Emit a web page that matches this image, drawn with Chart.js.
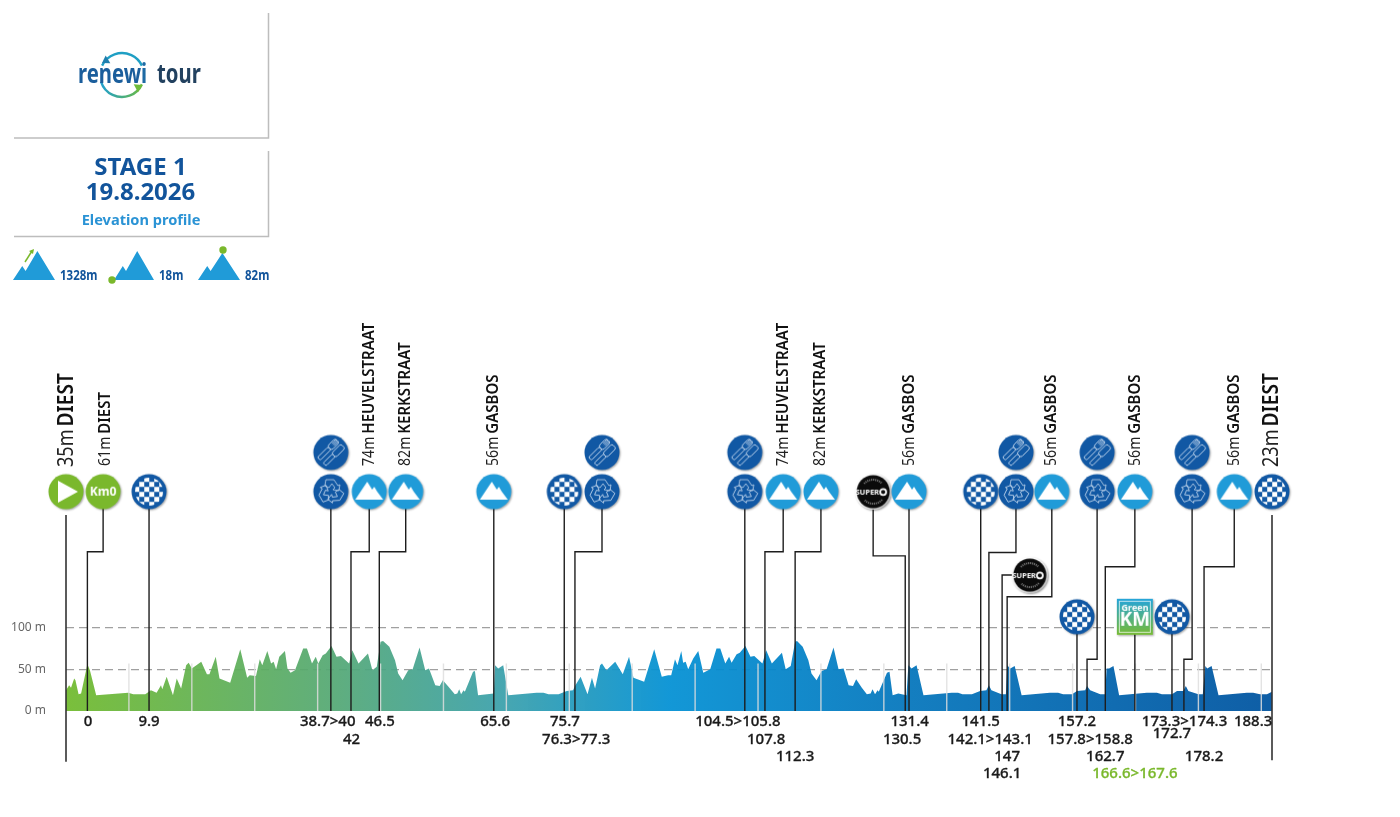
<!DOCTYPE html>
<html lang="en">
<head>
<meta charset="UTF-8" />
<title>Renewi Tour stage 1 profile</title>
<script src="https://cdn.jsdelivr.net/npm/chart.js@4/dist/chart.umd.js"></script>
<style>
  body { margin: 0; background: #fff; }
  canvas { display: block; }
</style>
</head>
<body>
<canvas id="profile" width="1400" height="817"></canvas>
<script>
// elevation profile, km from the official start / metres
const profileKm = [-3.4, -2.9, -2.6, -2.1, -1.9, -1.4, -1.0, 0, 0.4, 1.4, 6.5, 7.3, 9.2, 10.1, 11.0, 11.7, 11.9, 12.6, 13.6, 14.2, 14.9, 15.7, 16.1, 16.6, 18.1, 19.0, 19.4, 20.4, 21.0, 22.7, 24.3, 25.4, 25.8, 26.8, 27.4, 27.8, 28.6, 29.2, 29.6, 30.0, 30.5, 31.4, 31.8, 32.3, 33.0, 34.3, 34.9, 35.7, 36.3, 36.7, 37.4, 37.9, 38.8, 39.6, 40.3, 41.6, 42.1, 43.1, 44.6, 45.3, 46.0, 46.6, 47.0, 48.0, 48.9, 49.4, 50.1, 51.0, 51.7, 52.8, 53.7, 54.3, 55.3, 56.0, 56.5, 57.4, 58.4, 58.8, 59.1, 59.4, 59.8, 60.0, 61.3, 61.6, 62.1, 64.6, 64.8, 65.3, 66.1, 66.9, 71.4, 72.5, 73.3, 74.9, 76.2, 77.2, 77.5, 78.4, 79.5, 80.2, 80.7, 81.5, 81.8, 82.5, 83.9, 85.1, 86.1, 86.8, 88.5, 90.1, 91.3, 92.3, 92.8, 93.4, 93.8, 94.4, 94.7, 95.1, 95.5, 96.3, 97.1, 97.9, 99.0, 100.0, 100.6, 101.4, 102.0, 102.4, 103.2, 103.7, 104.6, 105.4, 106.0, 107.3, 107.9, 108.8, 110.4, 111.0, 111.8, 112.5, 112.8, 113.7, 114.6, 115.1, 115.9, 116.7, 117.5, 118.6, 119.4, 120.2, 121.0, 121.7, 122.2, 123.1, 123.9, 124.5, 124.8, 125.2, 125.6, 125.8, 127.1, 127.5, 128.0, 128.9, 130.2, 130.5, 131.0, 131.8, 132.9, 137.4, 138.4, 139.1, 140.6, 141.9, 142.9, 143.3, 143.7, 145.3, 146.0, 146.2, 146.7, 147.4, 148.5, 153.0, 154.3, 155.1, 156.5, 157.3, 158.6, 158.9, 159.4, 161.0, 161.8, 162.0, 162.4, 163.1, 164.0, 168.4, 170.0, 170.8, 172.4, 173.2, 174.2, 174.6, 175.0, 176.6, 177.3, 177.7, 178.0, 178.7, 179.8, 184.3, 185.3, 186.4, 187.5, 188.3];
const profileAlt = [25, 31, 28, 39, 37, 20, 21, 56, 49, 19, 22, 20, 20, 25, 22, 31, 26, 41, 19, 39, 27, 55, 58, 51, 59, 44, 44, 65, 39, 34, 74, 40, 43, 42, 62, 55, 72, 57, 59, 50, 65, 72, 51, 46, 49, 75, 75, 57, 65, 57, 67, 69, 78, 65, 66, 57, 73, 57, 69, 49, 53, 83, 84, 77, 61, 45, 37, 49, 50, 76, 49, 51, 31, 30, 37, 29, 20, 21, 26, 20, 25, 23, 47, 48, 19, 21, 55, 51, 55, 19, 22, 22, 20, 20, 24, 25, 30, 41, 20, 40, 27, 55, 57, 49, 59, 44, 65, 40, 35, 74, 41, 43, 43, 62, 55, 72, 58, 59, 50, 63, 72, 46, 50, 75, 75, 57, 65, 58, 68, 70, 78, 65, 66, 57, 73, 57, 70, 50, 54, 83, 84, 77, 61, 45, 37, 48, 50, 76, 50, 51, 31, 30, 38, 28, 20, 21, 26, 20, 25, 23, 46, 47, 19, 21, 19, 55, 51, 55, 19, 22, 22, 20, 20, 24, 25, 31, 25, 20, 20, 55, 51, 54, 19, 22, 22, 20, 20, 24, 25, 30, 25, 20, 20, 51, 51, 54, 19, 22, 22, 20, 20, 24, 24, 30, 24, 20, 20, 54, 51, 54, 19, 22, 22, 20, 20, 23];

// pale 10 km ticks
const tickKm = [6.6, 16.6, 26.6, 36.6, 46.6, 56.6, 66.6, 76.6, 86.6, 96.6, 106.6, 116.6, 126.6, 136.6, 146.6, 156.6, 166.6, 176.6, 186.6];

// race furniture, one entry per icon
const markerKinds = ['start', 'km0', 'sprint', 'recycle', 'climb', 'climb', 'climb', 'sprint', 'recycle', 'recycle', 'climb', 'climb', 'super', 'climb', 'sprint', 'recycle', 'climb', 'super', 'sprint', 'recycle', 'climb', 'green', 'sprint', 'recycle', 'climb', 'sprint'];
const markerKm = [-3.4, 2.5, 9.8, 38.7, 44.8, 50.6, 64.6, 75.8, 81.8, 104.5, 110.6, 116.6, 124.9, 130.6, 142.0, 147.6, 153.3, 149.8, 157.3, 160.5, 166.5, 166.5, 172.4, 175.6, 182.3, 188.3];
const markerAlt = [263, 263, 263, 263, 263, 263, 263, 263, 263, 263, 263, 263, 263, 263, 263, 263, 263, 163, 113, 263, 263, 113, 113, 263, 263, 263];
const markerBaseKm = [-3.4, 0, 9.8, 38.7, 41.9, 46.4, 64.6, 75.8, 77.5, 104.5, 107.7, 112.5, 130.0, 130.6, 142.0, 143.3, 146.2, 145.4, 157.3, 158.9, 161.8, 166.5, 172.4, 174.3, 177.5, 188.3];
const markerElbowAlt = [0, 191, 0, 0, 191, 191, 0, 0, 191, 0, 191, 191, 186, 0, 0, 190, 137, 163, 0, 62, 173, 0, 0, 62, 173, 0];

// feed zones sit above the recycle icons
const feedKm = [38.7, 81.8, 104.5, 147.6, 160.5, 175.6];
const feedAlt = [310, 310, 310, 310, 310, 310];

// start and finish rules reach below the axis
const ruleKm = [-3.4, 188.3];
const ruleTopAlt = [235, 235];
const ruleBottomAlt = [-61, -59];

// rotated names above the icons
const nameKm = [2.8, 44.8, 50.5, 64.6, 110.6, 116.5, 130.6, 153.3, 166.5, 182.3];
const nameHeights = ['61m', '74m', '82m', '56m', '74m', '82m', '56m', '56m', '56m', '56m'];
const nameLabels = ['DIEST', 'HEUVELSTRAAT', 'KERKSTRAAT', 'GASBOS', 'HEUVELSTRAAT', 'KERKSTRAAT', 'GASBOS', 'GASBOS', 'GASBOS', 'GASBOS'];
const bigNameKm = [-3.3, 188.3];
const bigNameHeights = ['35m', '23m'];
const bigNameLabels = ['DIEST', 'DIEST'];

// distance texts under the axis
const kmLabels = ['0', '9.9', '38.7>40', '42', '46.5', '65.6', '75.7', '76.3>77.3', '104.5>105.8', '107.8', '112.3', '131.4', '130.5', '141.5', '142.1>143.1', '147', '146.1', '157.2', '157.8>158.8', '162.7', '166.6>167.6', '172.7', '173.3>174.3', '178.2', '188.3'];
const kmLabelAt = [0.1, 9.8, 38.2, 42.0, 46.5, 64.8, 75.9, 77.7, 103.4, 107.9, 112.5, 130.7, 129.5, 142.0, 143.5, 146.2, 145.4, 157.3, 159.4, 161.8, 166.5, 172.4, 174.4, 177.5, 185.3];
const kmLabelRow = [0, 0, 0, 1, 0, 0, 0, 1, 0, 1, 2, 0, 1, 0, 1, 2, 3, 0, 1, 2, 3, 0.7, 0, 2, 0];

const yTicks = [0, 50, 100];

const BLUE = '#1158a4';
const SKY = '#209bd8';
const GREEN = '#7ab82c';
const NAVY = '#12549b';
const FONT = '"Noto Sans"';

function iconCanvas(draw) {
  const c = document.createElement('canvas');
  c.width = 44;
  c.height = 44;
  const g = c.getContext('2d');
  g.translate(22, 22);
  draw(g);
  return c;
}

function disc(g, color, r) {
  g.save();
  g.shadowColor = 'rgba(0,0,0,.35)';
  g.shadowBlur = 2;
  g.shadowOffsetX = 1;
  g.shadowOffsetY = 1;
  g.fillStyle = color;
  g.beginPath();
  g.arc(0, 0, r || 17.5, 0, Math.PI * 2);
  g.fill();
  g.restore();
}

function poly(g, pts) {
  g.beginPath();
  pts.forEach((p, i) => (i ? g.lineTo(p[0], p[1]) : g.moveTo(p[0], p[1])));
  g.closePath();
}

const icons = {
  start: iconCanvas(g => {
    disc(g, GREEN);
    g.fillStyle = '#fff';
    poly(g, [[-8, -11], [-8, 11], [12, 0]]);
    g.fill();
  }),
  km0: iconCanvas(g => {
    disc(g, GREEN);
    g.fillStyle = '#fff';
    g.font = 'bold 12px ' + FONT;
    g.textAlign = 'center';
    g.textBaseline = 'middle';
    g.fillText('Km0', 0, 0.5);
  }),
  sprint: iconCanvas(g => {
    disc(g, BLUE);
    g.save();
    g.beginPath();
    g.arc(0, 0, 14, 0, Math.PI * 2);
    g.clip();
    g.fillStyle = '#fff';
    for (let row = -3; row < 3; row++) {
      for (let col = -3; col < 3; col++) {
        if ((row + col + 6) % 2 === 0) g.fillRect(col * 5 + 0.2, row * 5 + 0.2, 5, 5);
      }
    }
    g.restore();
  }),
  climb: iconCanvas(g => {
    disc(g, SKY);
    g.fillStyle = '#fff';
    poly(g, [[-14, 8], [-2, -10], [3, -2], [5, -5], [8, 0], [14, 8]]);
    g.fill();
  }),
  recycle: iconCanvas(g => {
    disc(g, BLUE);
    g.strokeStyle = '#c4d8ee';
    g.lineWidth = 0.8;
    for (let i = 0; i < 3; i++) {
      g.save();
      g.rotate(i * Math.PI * 2 / 3);
      poly(g, [[-5, -12], [3, -12], [7, -6], [9, -7], [8, -1], [2, -2], [4, -4], [1, -8], [-2, -4], [-6, -6]]);
      g.stroke();
      g.restore();
    }
  }),
  feed: iconCanvas(g => {
    disc(g, BLUE);
    g.rotate(Math.PI / 4);
    g.strokeStyle = '#c4d8ee';
    g.lineWidth = 0.9;
    g.beginPath();
    g.roundRect(-7, -13, 6, 11, 2.5);
    g.roundRect(-6, -2, 4, 15, 1.5);
    g.roundRect(1, -13, 6, 13, 2);
    g.roundRect(2, 0, 4, 13, 1.5);
    g.moveTo(-5.5, -13); g.lineTo(-5.5, -7);
    g.moveTo(-4, -13); g.lineTo(-4, -7);
    g.moveTo(-2.5, -13); g.lineTo(-2.5, -7);
    g.stroke();
  }),
  super: iconCanvas(g => {
    disc(g, '#fff', 18);
    disc(g, '#0b0b0b', 16.5);
    g.fillStyle = '#fff';
    g.font = 'bold 7.5px ' + FONT;
    g.textBaseline = 'middle';
    g.textAlign = 'right';
    g.fillText('SUPER', 6, 0.5);
    g.strokeStyle = '#fff';
    g.lineWidth = 1.8;
    g.beginPath();
    g.arc(10, 0.3, 3, 0, Math.PI * 2);
    g.stroke();
    g.strokeStyle = '#8a8a8a';
    g.lineWidth = 2;
    g.setLineDash([1, 1]);
    g.beginPath();
    g.arc(0, 0, 12, -2.4, -0.74);
    g.stroke();
    g.beginPath();
    g.arc(0, 0, 12, 0.74, 2.4);
    g.stroke();
  }),
  green: iconCanvas(g => {
    const grad = g.createLinearGradient(0, -18, 0, 18);
    grad.addColorStop(0, '#25a5db');
    grad.addColorStop(1, '#78bb34');
    g.save();
    g.shadowColor = 'rgba(0,0,0,.35)';
    g.shadowBlur = 2;
    g.shadowOffsetX = 1;
    g.shadowOffsetY = 1;
    g.fillStyle = grad;
    g.fillRect(-18, -18, 36, 36);
    g.restore();
    g.strokeStyle = 'rgba(255,255,255,.7)';
    g.lineWidth = 1;
    g.strokeRect(-15.5, -15.5, 31, 31);
    g.fillStyle = '#fff';
    g.textAlign = 'center';
    g.textBaseline = 'middle';
    g.font = 'bold 9px ' + FONT;
    g.fillText('Green', 0, -9);
    g.font = 'bold 19px ' + FONT;
    g.fillText('KM', 0, 4);
  })
};

// draws a text squeezed horizontally, returns the width used
function squeezed(ctx, text, x, y, sx) {
  ctx.save();
  ctx.translate(x, y);
  ctx.scale(sx, 1);
  ctx.fillText(text, 0, 0);
  const w = ctx.measureText(text).width * sx;
  ctx.restore();
  return w;
}

function sideLabel(ctx, x, y, height, name, size) {
  ctx.save();
  ctx.translate(x, y);
  ctx.rotate(-Math.PI / 2);
  ctx.textAlign = 'left';
  ctx.textBaseline = 'middle';
  ctx.fillStyle = '#222';
  ctx.font = size + 'px ' + FONT;
  const w = squeezed(ctx, height, 0, 0, 0.86);
  ctx.fillStyle = '#111';
  ctx.font = '600 ' + size + 'px ' + FONT;
  squeezed(ctx, name, w + 3, 0, 0.915);
  ctx.restore();
}

function mountain(ctx, left, right, peak, base) {
  const w = right - left;
  ctx.fillStyle = SKY;
  poly(ctx, [[left, base], [left + w * 0.22, base - 14], [left + w * 0.3, base - 9], [left + w * 0.58, peak], [right, base]]);
  ctx.fill();
}

function arrowHead(ctx, tipX, tipY, angle, size) {
  ctx.save();
  ctx.translate(tipX, tipY);
  ctx.rotate(angle);
  poly(ctx, [[0, 0], [-size, -size * 0.65], [-size, size * 0.65]]);
  ctx.fill();
  ctx.restore();
}

const furniture = {
  id: 'furniture',
  afterDatasetsDraw(chart) {
    const ctx = chart.ctx;
    const x = chart.scales.x;

    // header boxes
    ctx.strokeStyle = '#bdbdbd';
    ctx.lineWidth = 1.5;
    ctx.beginPath();
    ctx.moveTo(268.5, 13); ctx.lineTo(268.5, 138); ctx.lineTo(14, 138);
    ctx.moveTo(268.5, 151); ctx.lineTo(268.5, 236.5); ctx.lineTo(14, 236.5);
    ctx.stroke();

    // logo
    ctx.lineWidth = 2.4;
    ctx.strokeStyle = '#1f9fc4';
    ctx.beginPath();
    ctx.arc(122, 75, 22, Math.PI * 1.14, Math.PI * 1.86);
    ctx.stroke();
    const lower = ctx.createLinearGradient(100, 0, 144, 0);
    lower.addColorStop(0, '#1f9fd0');
    lower.addColorStop(1, '#6fbb3a');
    ctx.strokeStyle = lower;
    ctx.beginPath();
    ctx.arc(122, 75, 22, Math.PI * 0.14, Math.PI * 0.9);
    ctx.stroke();
    ctx.fillStyle = '#1f7fae';
    arrowHead(ctx, 102, 63, 2.6, 7);
    ctx.fillStyle = '#6fbb3a';
    arrowHead(ctx, 142, 85, -0.5, 7);
    ctx.textAlign = 'left';
    ctx.textBaseline = 'alphabetic';
    ctx.font = 'bold 26px ' + FONT;
    const word = ctx.createLinearGradient(78, 0, 150, 0);
    word.addColorStop(0, '#1b5e9c');
    word.addColorStop(0.5, '#2a9fc6');
    word.addColorStop(1, '#6fbb3a');
    ctx.fillStyle = word;
    squeezed(ctx, 'renewi', 78, 83, 0.78);
    ctx.fillStyle = '#22415f';
    squeezed(ctx, 'tour', 157, 83, 0.78);

    // stage title
    ctx.textAlign = 'center';
    ctx.fillStyle = NAVY;
    ctx.font = 'bold 24px ' + FONT;
    ctx.fillText('STAGE 1', 140.5, 175);
    ctx.fillText('19.8.2026', 140.5, 200);
    ctx.fillStyle = '#2a93d5';
    ctx.font = 'bold 14.6px ' + FONT;
    ctx.fillText('Elevation profile', 141, 224.5);

    // climbing summary
    mountain(ctx, 13, 55, 251, 280);
    mountain(ctx, 114, 154, 251, 280);
    mountain(ctx, 198, 240, 253, 280);
    ctx.strokeStyle = GREEN;
    ctx.lineWidth = 1.5;
    ctx.beginPath();
    ctx.moveTo(25, 262); ctx.lineTo(32, 251);
    ctx.stroke();
    ctx.fillStyle = GREEN;
    poly(ctx, [[34, 249], [29, 251], [33, 254]]);
    ctx.fill();
    ctx.beginPath();
    ctx.arc(112, 280, 3.7, 0, Math.PI * 2);
    ctx.fill();
    ctx.beginPath();
    ctx.arc(223, 250, 3.7, 0, Math.PI * 2);
    ctx.fill();
    ctx.textAlign = 'left';
    ctx.fillStyle = NAVY;
    ctx.font = 'bold 14px ' + FONT;
    squeezed(ctx, '1328m', 60, 280, 0.82);
    squeezed(ctx, '18m', 159, 280, 0.82);
    squeezed(ctx, '82m', 245, 280, 0.82);

    // rotated place names
    nameKm.forEach((km, i) => sideLabel(ctx, x.getPixelForValue(km), 466, nameHeights[i], nameLabels[i], 16.4));
    bigNameKm.forEach((km, i) => sideLabel(ctx, x.getPixelForValue(km), 467, bigNameHeights[i], bigNameLabels[i], 21));

    // distances under the axis, regular weight thickened a little
    ctx.textAlign = 'center';
    ctx.textBaseline = 'middle';
    ctx.font = '500 15px ' + FONT;
    ctx.lineWidth = 0.3;
    kmLabels.forEach((t, i) => {
      const color = t === '166.6>167.6' ? GREEN : '#1a1a1a';
      const px = x.getPixelForValue(kmLabelAt[i]);
      const py = 722 + kmLabelRow[i] * 17.4;
      ctx.fillStyle = color;
      ctx.strokeStyle = color;
      ctx.fillText(t, px, py);
      ctx.strokeText(t, px, py);
    });
  }
};

const datasets = [];

// icons first in the array so they end up on top
datasets.push({
  type: 'scatter',
  data: markerKm.map((km, i) => ({ x: km, y: markerAlt[i] })),
  pointStyle: markerKinds.map(k => icons[k]),
  pointRadius: 18,
  clip: false,
  order: 0
});
datasets.push({
  type: 'scatter',
  data: feedKm.map((km, i) => ({ x: km, y: feedAlt[i] })),
  pointStyle: icons.feed,
  pointRadius: 18,
  order: 0
});

// leaders from each icon down to the road
markerKm.forEach((km, i) => {
  if (markerKinds[i] === 'start' || (i === markerKm.length - 1)) return;
  datasets.push({
    type: 'line',
    data: [
      { x: km, y: markerAlt[i] },
      { x: km, y: markerElbowAlt[i] },
      { x: markerBaseKm[i], y: markerElbowAlt[i] },
      { x: markerBaseKm[i], y: 0 }
    ],
    borderColor: '#1d1d1d',
    borderWidth: 1.4,
    pointRadius: 0,
    tension: 0,
    order: 1
  });
});
ruleKm.forEach((km, i) => {
  datasets.push({
    type: 'line',
    data: [{ x: km, y: ruleTopAlt[i] }, { x: km, y: ruleBottomAlt[i] }],
    borderColor: '#333',
    borderWidth: 1.6,
    pointRadius: 0,
    clip: false,
    order: 1
  });
});

// pale km ticks
tickKm.forEach(km => {
  datasets.push({
    type: 'line',
    data: [{ x: km, y: 0 }, { x: km, y: 57 }],
    borderColor: 'rgba(222,222,222,.85)',
    borderWidth: 1.4,
    pointRadius: 0,
    order: 2
  });
});

// the road profile
datasets.push({
  type: 'line',
  data: profileKm.map((km, i) => ({ x: km, y: profileAlt[i] })),
  borderWidth: 0,
  pointRadius: 0,
  tension: 0,
  fill: 'origin',
  order: 3,
  backgroundColor(c) {
    const area = c.chart.chartArea;
    if (!area) return '#4ab';
    const grad = c.chart.ctx.createLinearGradient(area.left, 0, area.right, 0);
    grad.addColorStop(0, 'rgba(112,186,44,.93)');
    grad.addColorStop(0.22, 'rgba(84,168,115,.93)');
    grad.addColorStop(0.36, 'rgba(58,160,170,.93)');
    grad.addColorStop(0.5, 'rgba(4,145,212,.94)');
    grad.addColorStop(0.7, 'rgba(5,118,188,.94)');
    grad.addColorStop(1, 'rgba(0,84,160,.94)');
    return grad;
  }
});

new Chart(document.getElementById('profile'), {
  data: { datasets },
  plugins: [furniture],
  options: {
    responsive: false,
    animation: false,
    events: [],
    layout: { padding: { top: 11, right: 128, bottom: 106, left: 0 } },
    plugins: { legend: { display: false }, tooltip: { enabled: false } },
    scales: {
      x: { type: 'linear', min: -3.4, max: 188.3, display: false },
      y: {
        min: 0,
        max: 820,
        afterFit(axis) { axis.width = 66; },
        afterBuildTicks(axis) { axis.ticks = yTicks.map(v => ({ value: v })); },
        border: { display: false, dash: [8, 5] },
        grid: {
          color: c => (c.tick.value === 0 ? 'rgba(0,0,0,0)' : '#a0a0a0'),
          lineWidth: 1.3,
          drawTicks: false
        },
        ticks: {
          padding: 20,
          color: '#666',
          font: { family: 'Noto Sans', size: 12 },
          callback: v => v + ' m'
        }
      }
    }
  }
});
</script>
</body>
</html>
